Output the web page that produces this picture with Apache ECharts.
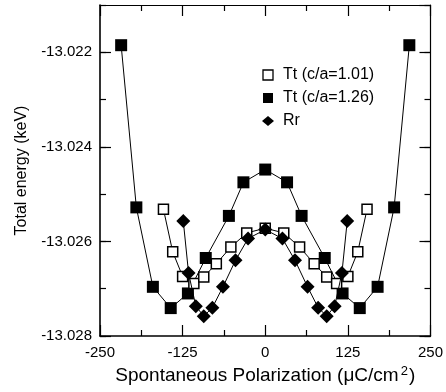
<!DOCTYPE html>
<html>
<head>
<meta charset="utf-8">
<script src="https://cdn.jsdelivr.net/npm/echarts@6/dist/echarts.min.js"></script>
<style>html,body{margin:0;padding:0;background:#fff}#c{width:446px;height:392px}</style>
</head>
<body>
<div id="c"></div>
<script>
// Tt (c/a=1.01) - open squares
var ttLowX = [-154, -140, -125, -108, -93, -74, -52, -28, 0, 28, 52, 74, 93, 108, 125, 140, 154];
var ttLowY = [-13.02532, -13.02622, -13.02674, -13.02689, -13.02675, -13.02647, -13.02612, -13.02582, -13.02572,
              -13.02582, -13.02612, -13.02647, -13.02675, -13.02689, -13.02674, -13.02622, -13.02532];
// Tt (c/a=1.26) - filled squares
var ttHighX = [-218, -195, -170, -143, -117, -90, -55, -33, 0, 33, 55, 90, 117, 143, 170, 195, 218];
var ttHighY = [-13.02185, -13.02528, -13.02696, -13.02741, -13.0271, -13.02635, -13.02546, -13.02475, -13.02448,
               -13.02475, -13.02546, -13.02635, -13.0271, -13.02741, -13.02696, -13.02528, -13.02185];
// Rr - diamonds
var rrX = [-124, -116, -105, -93, -80, -64, -45, -26, 0, 26, 45, 64, 80, 93, 105, 116, 124];
var rrY = [-13.02557, -13.02667, -13.02737, -13.02758, -13.0274, -13.02696, -13.0264, -13.02594, -13.02575,
           -13.02594, -13.0264, -13.02696, -13.0274, -13.02758, -13.02737, -13.02667, -13.02557];

var seriesNames = ['Tt (c/a=1.01)', 'Tt (c/a=1.26)', 'Rr'];
var xTickLabels = [-250, -125, 0, 125, 250];
var yTickLabels = [-13.028, -13.026, -13.024, -13.022];

function pairs(xs, ys) { return xs.map(function (x, i) { return [x, ys[i]]; }); }

var FONT = '"Liberation Sans", Arial, Helvetica, sans-serif';
var chart = echarts.init(document.getElementById('c'), null, {renderer: 'canvas'});

function xAx(pos, labels) {
  return {
    type: 'value', position: pos, min: -250, max: 250, interval: 125,
    axisLine: {show: true, onZero: false, lineStyle: {color: '#000', width: pos === 'bottom' ? 1.6 : 1.2}},
    axisTick: {show: true, inside: true, length: 11, lineStyle: {color: '#000', width: 1.2}},
    minorTick: {show: true, splitNumber: 2, length: 6, lineStyle: {color: '#000', width: 1.2}},
    splitLine: {show: false},
    axisLabel: labels ? {
      show: true, margin: 9, color: '#000', fontSize: 15, fontFamily: FONT,
      formatter: function (v) { return xTickLabels.indexOf(v) >= 0 ? String(v) : ''; }
    } : {show: false},
    name: labels ? 'Spontaneous Polarization (μC/cm{s|2})' : '',
    nameLocation: 'middle', nameGap: 29,
    nameTextStyle: {color: '#000', fontSize: 19, fontFamily: FONT, lineHeight: 22,
      rich: {s: {fontSize: 13, verticalAlign: 'top', lineHeight: 22, fontFamily: FONT, color: '#000', padding: [0, 1, 0, 2]}}}
  };
}
function yAx(pos, interval, len, labels, line) {
  return {
    type: 'value', position: pos, min: -13.028, max: -13.021, interval: interval,
    axisLine: {show: line, onZero: false, lineStyle: {color: '#000', width: pos === 'left' ? 1.6 : 1.2}},
    axisTick: {show: true, inside: true, length: len, lineStyle: {color: '#000', width: 1.2}},
    splitLine: {show: false},
    axisLabel: labels ? {
      show: true, margin: 8, color: '#000', fontSize: 15, fontFamily: FONT, showMaxLabel: false,
      formatter: function (v) {
        var k = Math.round(v * 1000) / 1000;
        for (var i = 0; i < yTickLabels.length; i++) if (Math.abs(yTickLabels[i] - k) < 1e-9) return yTickLabels[i].toFixed(3);
        return '';
      }
    } : {show: false},
    name: labels ? 'Total energy (keV)' : '',
    nameLocation: 'middle', nameGap: 70,
    nameTextStyle: {color: '#000', fontSize: 16, fontFamily: FONT}
  };
}

var lineStyle = {color: '#000', width: 1};
var option = {
  animation: false,
  backgroundColor: '#fff',
  grid: {left: 100, top: 5, right: 14, bottom: 56, containLabel: false},
  xAxis: [xAx('bottom', true), xAx('top', false)],
  yAxis: [
    yAx('left', 0.002, 11, true, true),
    yAx('left', 0.001, 6, false, false),
    yAx('right', 0.002, 11, false, true),
    yAx('right', 0.001, 6, false, false)
  ],
  legend: {
    orient: 'vertical', left: 257, top: 61, itemWidth: 20, itemHeight: 10, itemGap: 5,
    symbolKeepAspect: true,
    textStyle: {color: '#000', fontSize: 16, fontFamily: FONT, lineHeight: 18},
    data: [
      {name: seriesNames[0], icon: 'path://M0,0H10V10H0Z', itemStyle: {color: '#fff', borderColor: '#000', borderWidth: 1.3}},
      {name: seriesNames[1], icon: 'path://M0,0H10V10H0Z', itemStyle: {color: '#000', borderWidth: 0}},
      {name: seriesNames[2], icon: 'path://M6,0L12,5L6,10L0,5Z', itemStyle: {color: '#000', borderWidth: 0}}
    ]
  },
  series: [
    {
      name: seriesNames[0], type: 'line', data: pairs(ttLowX, ttLowY), z: 3,
      symbol: 'rect', symbolSize: 10, showAllSymbol: true,
      lineStyle: lineStyle,
      itemStyle: {color: '#fff', borderColor: '#000', borderWidth: 1.5}
    },
    {
      name: seriesNames[1], type: 'line', data: pairs(ttHighX, ttHighY), z: 2,
      symbol: 'rect', symbolSize: 12, showAllSymbol: true,
      lineStyle: lineStyle,
      itemStyle: {color: '#000', borderWidth: 0}
    },
    {
      name: seriesNames[2], type: 'line', data: pairs(rrX, rrY), z: 4,
      symbol: 'diamond', symbolSize: 14, showAllSymbol: true,
      lineStyle: lineStyle,
      itemStyle: {color: '#000', borderWidth: 0}
    }
  ]
};
chart.setOption(option);
</script>
</body>
</html>
